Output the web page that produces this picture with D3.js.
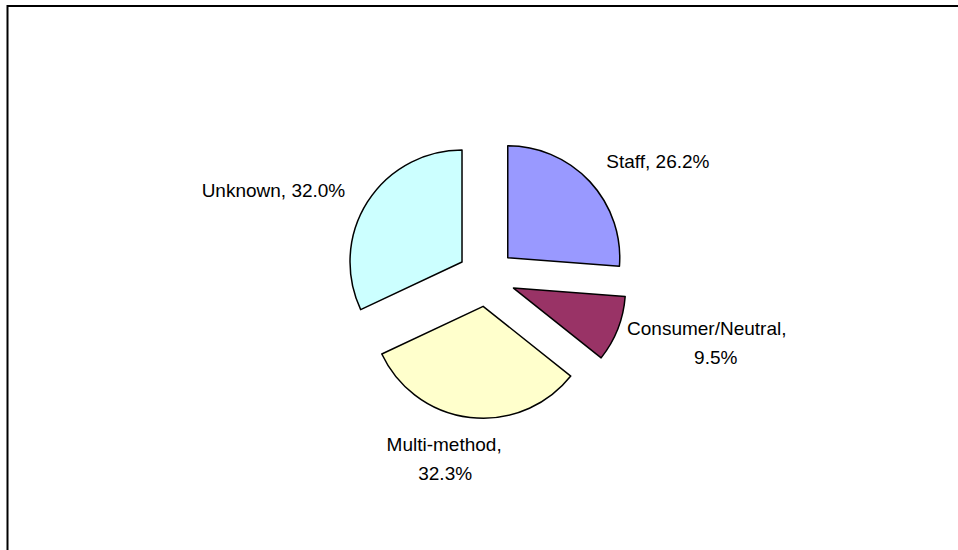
<!DOCTYPE html>
<html>
<head>
<meta charset="utf-8">
<script src="https://cdn.jsdelivr.net/npm/d3@7"></script>
<style>
  html, body { margin: 0; padding: 0; background: #fff; }
  svg { display: block; }
  text { font-family: "Liberation Sans", Arial, sans-serif; font-size: 19px; fill: #000; }
</style>
</head>
<body>
<svg id="chart" width="958" height="550"></svg>
<script>
// Data: share of records by method, clockwise from 12 o'clock
const categories = ["Staff", "Consumer/Neutral", "Multi-method", "Unknown"];
const values = [26.2, 9.5, 32.3, 32.0];
const colors = ["#9999FF", "#993366", "#FFFFCC", "#CCFFFF"];

// Label layout: text lines and offsets from the exploded slice's outer edge
const labelLines = [
  ["Staff, 26.2%"],
  ["Consumer/Neutral,", "9.5%"],
  ["Multi-method,", "32.3%"],
  ["Unknown, 32.0%"]
];
const labelOffsets = [
  [[68, -14]],
  [[89, 6], [98, 35]],
  [[-26, 33], [-25, 62]],
  [[-94, -5]]
];

const svg = d3.select("#chart");

// Plot-area frame (right and bottom edges run off the page)
svg.append("rect")
  .attr("x", 7.5).attr("y", 6)
  .attr("width", 1000).attr("height", 600)
  .attr("fill", "none").attr("stroke", "#000").attr("stroke-width", 2);

const cx = 486.5, cy = 277.5, radius = 112, explode = 29;

const pie = d3.pie().sort(null).value(d => d)(values);
const arc = d3.arc().innerRadius(0).outerRadius(radius);

const g = svg.append("g").attr("transform", `translate(${cx},${cy})`);

function dirOf(p) {
  const a = (p.startAngle + p.endAngle) / 2;
  return [Math.sin(a), -Math.cos(a)];
}

g.selectAll("path.slice")
  .data(pie)
  .join("path")
  .attr("class", "slice")
  .attr("d", arc)
  .attr("transform", p => {
    const [dx, dy] = dirOf(p);
    return `translate(${dx * explode},${dy * explode})`;
  })
  .attr("fill", (p, i) => colors[i])
  .attr("stroke", "#000")
  .attr("stroke-width", 1.5)
  .attr("stroke-linejoin", "round");

// Data labels
pie.forEach((p, i) => {
  const [dx, dy] = dirOf(p);
  const bx = dx * (explode + radius), by = dy * (explode + radius);
  const t = g.append("text").attr("text-anchor", "middle");
  labelLines[i].forEach((line, j) => {
    const [ox, oy] = labelOffsets[i][j];
    t.append("tspan").attr("x", bx + ox).attr("y", by + oy).text(line);
  });
});
</script>
</body>
</html>
